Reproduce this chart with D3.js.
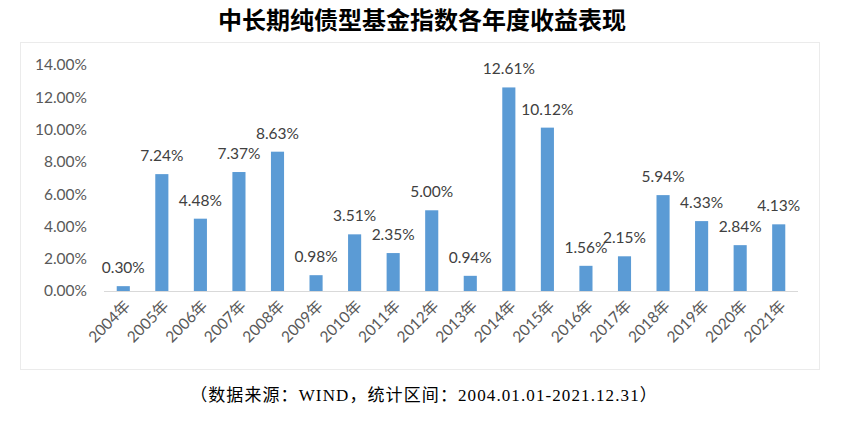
<!DOCTYPE html>
<html><head><meta charset="utf-8">
<script src="https://cdn.jsdelivr.net/npm/d3@7"></script>
<style>
body{margin:0;background:#fff;}
svg{display:block;}
</style></head>
<body>
<svg id="c" width="844" height="421"></svg>
<script>
const years = ["2004年","2005年","2006年","2007年","2008年","2009年","2010年","2011年","2012年","2013年","2014年","2015年","2016年","2017年","2018年","2019年","2020年","2021年"];
const returns = [0.30,7.24,4.48,7.37,8.63,0.98,3.51,2.35,5.00,0.94,12.61,10.12,1.56,2.15,5.94,4.33,2.84,4.13];
const yTicks = [0,2,4,6,8,10,12,14];
const titleText = "中长期纯债型基金指数各年度收益表现";
const sourceText = "（数据来源：WIND，统计区间：2004.01.01-2021.12.31）";

const svg = d3.select("#c");
const labelFont = "Lato, 'Noto Sans CJK SC', sans-serif";

svg.append("text").attr("x", 422).attr("y", 29).attr("text-anchor", "middle")
  .attr("font-family", "'Noto Sans CJK SC', sans-serif").attr("font-weight", "bold")
  .attr("font-size", 24).attr("fill", "#000").text(titleText);

svg.append("rect").attr("x", 20.5).attr("y", 42.5).attr("width", 799).attr("height", 327)
  .attr("fill", "#fff").attr("stroke", "#ebebeb").attr("stroke-width", 1);

const x = d3.scaleBand().domain(years).range([104, 798]).paddingInner(0.66).paddingOuter(0.33);
const y = d3.scaleLinear().domain([0, 14]).range([291, 65]);

const yAxis = svg.append("g").attr("transform", "translate(87,0)")
  .call(d3.axisLeft(y).tickValues(yTicks).tickSize(0).tickPadding(0).tickFormat(d => d.toFixed(2) + "%"));
yAxis.select(".domain").remove();
yAxis.selectAll("text").attr("font-family", labelFont).attr("font-size", 15.5).attr("fill", "#595959");

svg.selectAll("rect.bar").data(returns).join("rect").attr("class", "bar")
  .attr("x", (d, i) => x(years[i])).attr("width", x.bandwidth())
  .attr("y", d => y(d)).attr("height", d => y(0) - y(d))
  .attr("fill", "#5b9bd5");

svg.append("line").attr("x1", 104).attr("x2", 798).attr("y1", y(0) + 0.5).attr("y2", y(0) + 0.5)
  .attr("stroke", "#d9d9d9").attr("stroke-width", 1);

svg.selectAll("text.val").data(returns).join("text").attr("class", "val")
  .attr("x", (d, i) => x(years[i]) + x.bandwidth() / 2).attr("y", d => y(d) - 13)
  .attr("text-anchor", "middle").attr("font-family", labelFont).attr("font-size", 15.5)
  .attr("fill", "#404040").text(d => d.toFixed(2) + "%");

const xAxis = svg.append("g").attr("transform", `translate(0,${y(0)})`)
  .call(d3.axisBottom(x).tickSize(0).tickPadding(0));
xAxis.select(".domain").remove();
xAxis.selectAll("text").attr("font-family", labelFont).attr("font-size", 15.5).attr("fill", "#595959")
  .attr("text-anchor", "end").attr("dy", 0)
  .attr("transform", "translate(8,16) rotate(-45)");

svg.append("text").attr("x", 424).attr("y", 401).attr("text-anchor", "middle")
  .attr("font-family", "'Liberation Serif', 'Noto Sans CJK SC', serif")
  .attr("font-size", 17).attr("letter-spacing", 1.1).attr("fill", "#000").text(sourceText);
</script>
</body></html>
